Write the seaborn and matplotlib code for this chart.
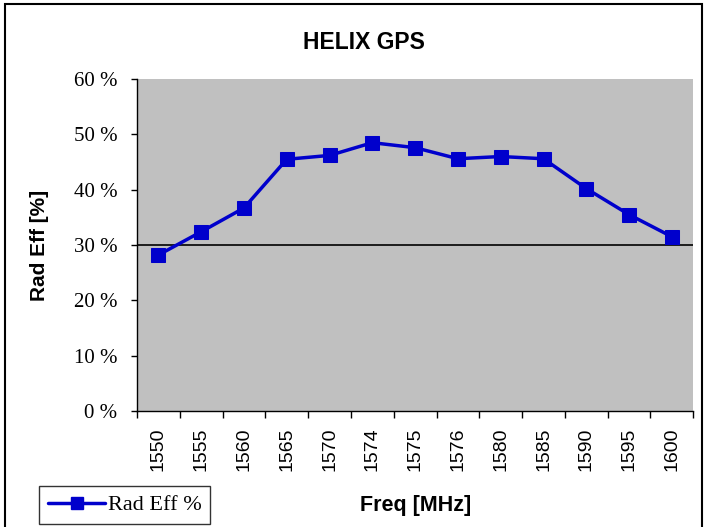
import numpy as np
import pandas as pd
import matplotlib
matplotlib.use('Agg')
import matplotlib.pyplot as plt
from matplotlib.lines import Line2D
from matplotlib.patches import Rectangle
import seaborn as sns

sns.set_style('ticks')
plt.rcParams['font.family'] = ['Liberation Sans', 'DejaVu Sans']
plt.rcParams['text.color'] = 'black'
plt.rcParams['axes.labelcolor'] = 'black'
plt.rcParams['xtick.color'] = 'black'
plt.rcParams['ytick.color'] = 'black'

# Data
freqs = ['1550', '1555', '1560', '1565', '1570', '1574', '1575',
         '1576', '1580', '1585', '1590', '1595', '1600']
rad_eff = [28.2, 32.4, 36.7, 45.5, 46.2, 48.5, 47.6,
           45.6, 46.0, 45.6, 40.2, 35.5, 31.5]
y_ticks = [0, 10, 20, 30, 40, 50, 60]

df = pd.DataFrame({'Freq': freqs, 'RadEff': rad_eff})

fig = plt.figure(figsize=(7.06, 5.27), dpi=100)
ax = fig.add_axes([0.194, 0.22, 0.788, 0.63])
ax.set_facecolor('#C0C0C0')

line_col = '#0000CC'
sns.lineplot(data=df, x='Freq', y='RadEff', sort=False, ax=ax,
             color=line_col, lw=2.5, marker='s', markersize=10,
             markeredgecolor=line_col, markerfacecolor=line_col)

ax.axhline(30, color='black', lw=1.2, zorder=1)

ax.set_ylim(0, 60)
ax.set_xlim(-0.5, len(freqs) - 0.5)
ax.set_yticks(y_ticks)
ax.set_yticklabels([f'{v} %' for v in y_ticks], family='Liberation Serif',
                   fontsize=15)
ax.set_xticks(range(len(freqs)))
ax.set_xticklabels(freqs, rotation=90, fontsize=14)
ax.tick_params(axis='x', length=0, pad=12)
ax.set_xticks(np.arange(-0.5, len(freqs), 1), minor=True)
ax.tick_params(axis='x', which='minor', length=5, color='black', width=1)
ax.tick_params(axis='y', length=4, color='black', width=1, pad=10)

for side in ['top', 'right']:
    ax.spines[side].set_visible(False)
for side in ['left', 'bottom']:
    ax.spines[side].set_color('black')
    ax.spines[side].set_linewidth(1)

ax.set_xlabel('Freq [MHz]', fontsize=15.5, fontweight='bold')
ax.set_ylabel('Rad Eff [%]', fontsize=15, fontweight='bold')
ax.xaxis.set_label_coords(0.5, -0.253)
ax.yaxis.set_label_coords(-0.158, 0.5)
fig.text(0.516, 0.92, 'HELIX GPS', fontsize=16.5, fontweight='bold',
         ha='center', va='center')

handle = Line2D([], [], color=line_col, lw=2.5, marker='s', markersize=8)
leg = fig.legend([handle], ['Rad Eff %'], loc='upper left',
                 bbox_to_anchor=(0.055, 0.078), frameon=True, fancybox=False,
                 prop={'family': 'Liberation Serif', 'size': 16},
                 handlelength=2.6, borderpad=0.4, borderaxespad=0,
                 handletextpad=0.1)
leg.get_frame().set_edgecolor('black')
leg.get_frame().set_linewidth(1)

# outer border
fig.patches.append(Rectangle((0.007, -0.01), 0.988, 1.002, fill=False,
                             edgecolor='black', lw=1.5,
                             transform=fig.transFigure, figure=fig))

fig.savefig('out.png', dpi=100)
